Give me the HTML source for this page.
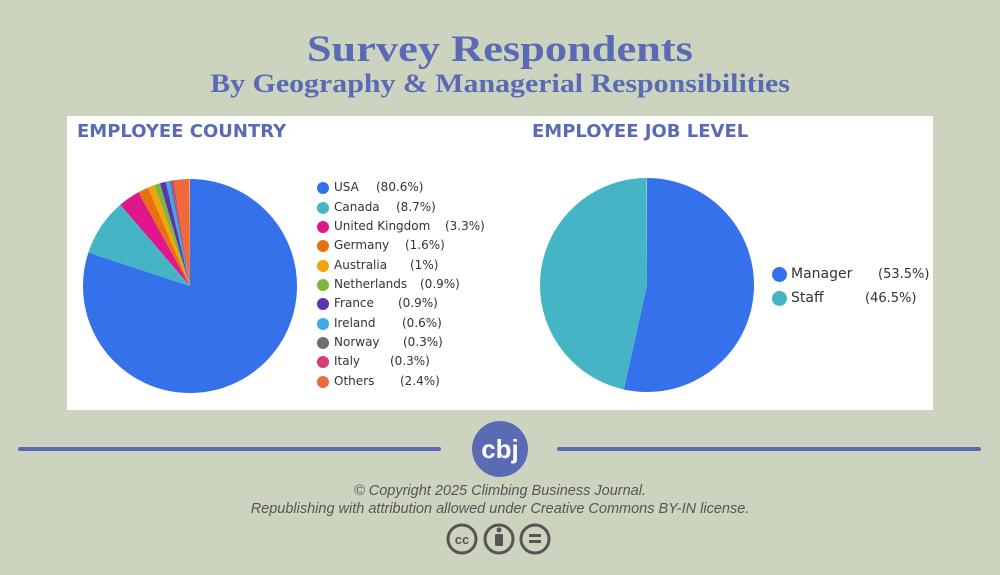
<!DOCTYPE html>
<html><head><meta charset="utf-8"><style>
body{margin:0;width:1000px;height:575px;background:#ccd4c0;position:relative;overflow:hidden;font-family:"Liberation Sans",sans-serif}
.t1{position:absolute;left:0;width:1000px;text-align:center;font-family:"Liberation Serif",serif;font-weight:bold;color:#5b6ab5}
.t1 span{display:inline-block}
.panel{position:absolute;left:67px;top:116px;width:866px;height:294px;background:#fff}
.h{position:absolute;font-family:"DejaVu Sans",sans-serif;font-weight:bold;color:#5b6ab5;font-size:18px}
.leg{position:absolute;font-family:"DejaVu Sans",sans-serif;font-size:12px;color:#333}
.leg div{position:absolute;white-space:nowrap}
.dot{position:absolute;width:12px;height:12px;border-radius:50%}
.line{position:absolute;top:447px;height:4px;background:#5b6ab5;border-radius:2px}
.copy{position:absolute;left:0;width:1000px;text-align:center;font-style:italic;color:#555;font-size:14.5px}
</style></head><body>
<div class="t1" style="top:29px;font-size:37px;line-height:42px"><span style="transform:scaleX(1.2)">Survey Respondents</span></div>
<div class="t1" style="top:69px;font-size:26px;line-height:30px"><span style="transform:scaleX(1.15)">By Geography &amp; Managerial Responsibilities</span></div>
<div class="panel"></div>
<div class="h" style="left:77px;top:121px">EMPLOYEE COUNTRY</div>
<div class="h" style="left:532px;top:121px">EMPLOYEE JOB LEVEL</div>
<svg style="position:absolute;left:0;top:0" width="1000" height="575">
<g transform="translate(190,286) rotate(-90)" fill="none" stroke-width="107">
<circle r="53.5" pathLength="100.6" stroke="#3571ea" stroke-dasharray="80.6 200" stroke-dashoffset="0"/>
<circle r="53.5" pathLength="100.6" stroke="#45b5c6" stroke-dasharray="8.7 200" stroke-dashoffset="-80.6"/>
<circle r="53.5" pathLength="100.6" stroke="#e0168c" stroke-dasharray="3.3 200" stroke-dashoffset="-89.3"/>
<circle r="53.5" pathLength="100.6" stroke="#e8700f" stroke-dasharray="1.6 200" stroke-dashoffset="-92.6"/>
<circle r="53.5" pathLength="100.6" stroke="#f4a40a" stroke-dasharray="1 200" stroke-dashoffset="-94.2"/>
<circle r="53.5" pathLength="100.6" stroke="#7ab83a" stroke-dasharray="0.9 200" stroke-dashoffset="-95.2"/>
<circle r="53.5" pathLength="100.6" stroke="#5b35b0" stroke-dasharray="0.9 200" stroke-dashoffset="-96.1"/>
<circle r="53.5" pathLength="100.6" stroke="#3fa7ea" stroke-dasharray="0.6 200" stroke-dashoffset="-97"/>
<circle r="53.5" pathLength="100.6" stroke="#6e6e6e" stroke-dasharray="0.3 200" stroke-dashoffset="-97.6"/>
<circle r="53.5" pathLength="100.6" stroke="#d93a7a" stroke-dasharray="0.3 200" stroke-dashoffset="-97.9"/>
<circle r="53.5" pathLength="100.6" stroke="#ef6a3a" stroke-dasharray="2.4 200" stroke-dashoffset="-98.2"/>
</g>
<g transform="translate(647,285) rotate(-90)" fill="none" stroke-width="107">
<circle r="53.5" pathLength="100" stroke="#3571ea" stroke-dasharray="53.5 200"/>
<circle r="53.5" pathLength="100" stroke="#45b5c6" stroke-dasharray="46.5 200" stroke-dashoffset="-53.5"/>
</g>
<circle cx="500" cy="449" r="28" fill="#5b6ab5"/>
<text x="500" y="458" text-anchor="middle" font-family="Liberation Sans" font-size="26" font-weight="bold" fill="#fff">cbj</text>
<g fill="none" stroke="#555" stroke-width="3">
<circle cx="462" cy="539" r="14"/><circle cx="499" cy="539" r="14"/><circle cx="535" cy="539" r="14"/>
</g>
<text x="462" y="544" text-anchor="middle" font-family="Liberation Sans" font-size="13" font-weight="bold" fill="#555">cc</text>
<circle cx="499" cy="530" r="2.5" fill="#555"/>
<rect x="495" y="534" width="8" height="12" rx="1" fill="#555"/>
<rect x="529" y="534" width="12" height="3" fill="#555"/><rect x="529" y="540" width="12" height="3" fill="#555"/>
</svg>
<div class="leg">
<div class="dot" style="left:317px;top:182px;background:#3571ea"></div><div style="left:334px;top:180px">USA</div><div style="left:376px;top:180px">(80.6%)</div>
<div class="dot" style="left:317px;top:202px;background:#45b5c6"></div><div style="left:334px;top:200px">Canada</div><div style="left:396px;top:200px">(8.7%)</div>
<div class="dot" style="left:317px;top:221px;background:#e0168c"></div><div style="left:334px;top:219px">United Kingdom</div><div style="left:445px;top:219px">(3.3%)</div>
<div class="dot" style="left:317px;top:240px;background:#e8700f"></div><div style="left:334px;top:238px">Germany</div><div style="left:405px;top:238px">(1.6%)</div>
<div class="dot" style="left:317px;top:260px;background:#f4a40a"></div><div style="left:334px;top:258px">Australia</div><div style="left:410px;top:258px">(1%)</div>
<div class="dot" style="left:317px;top:279px;background:#7ab83a"></div><div style="left:334px;top:277px">Netherlands</div><div style="left:420px;top:277px">(0.9%)</div>
<div class="dot" style="left:317px;top:298px;background:#5b35b0"></div><div style="left:334px;top:296px">France</div><div style="left:398px;top:296px">(0.9%)</div>
<div class="dot" style="left:317px;top:318px;background:#3fa7ea"></div><div style="left:334px;top:316px">Ireland</div><div style="left:402px;top:316px">(0.6%)</div>
<div class="dot" style="left:317px;top:337px;background:#6e6e6e"></div><div style="left:334px;top:335px">Norway</div><div style="left:403px;top:335px">(0.3%)</div>
<div class="dot" style="left:317px;top:356px;background:#d93a7a"></div><div style="left:334px;top:354px">Italy</div><div style="left:390px;top:354px">(0.3%)</div>
<div class="dot" style="left:317px;top:376px;background:#ef6a3a"></div><div style="left:334px;top:374px">Others</div><div style="left:400px;top:374px">(2.4%)</div>
</div>
<div class="leg" style="font-size:14px">
<div class="dot" style="left:772px;top:267px;width:15px;height:15px;background:#3571ea"></div><div style="left:791px;top:266px">Manager</div><div style="left:878px;top:267px;font-size:13px">(53.5%)</div>
<div class="dot" style="left:772px;top:291px;width:15px;height:15px;background:#45b5c6"></div><div style="left:791px;top:290px">Staff</div><div style="left:865px;top:291px;font-size:13px">(46.5%)</div>
</div>
<div class="line" style="left:18px;width:423px"></div>
<div class="line" style="left:557px;width:424px"></div>
<div class="copy" style="top:483px">© Copyright 2025 Climbing Business Journal.</div>
<div class="copy" style="top:501px">Republishing with attribution allowed under Creative Commons BY-IN license.</div>
</body></html>
